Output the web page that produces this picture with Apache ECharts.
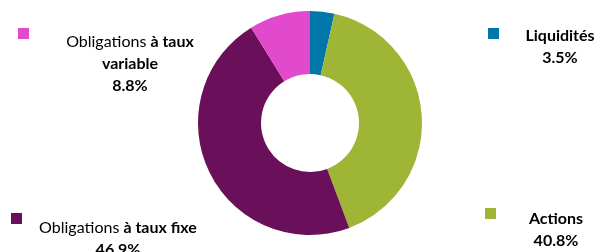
<!DOCTYPE html>
<html><head><meta charset="utf-8">
<script src="https://cdn.jsdelivr.net/npm/echarts@6/dist/echarts.min.js"></script>
<style>html,body{margin:0;padding:0;background:#fff}#c{width:599px;height:252px}</style>
</head><body><div id="c"></div>
<script>
const categories = ['Liquidités', 'Actions', 'Obligations à taux fixe', 'Obligations à taux variable'];
const values = [3.5, 40.8, 46.9, 8.8];
const colors = ['#0077A8', '#9FB535', '#6A0F5A', '#E24ACE'];

const chart = echarts.init(document.getElementById('c'), null, {renderer: 'canvas'});
const F = 'Lato, "Open Sans", sans-serif';
const rich = {
  r: {fontFamily: F, fontSize: 16, color: '#6b6b6b', fontWeight: 'normal', lineHeight: 22},
  b: {fontFamily: F, fontSize: 16, color: '#404040', fontWeight: 'bold', lineHeight: 22}
};
function pct(v){ return v.toFixed(1) + '%'; }
const labelTexts = [
  '{b|' + categories[0] + '}\n{b|' + pct(values[0]) + '}',
  '{b|' + categories[1] + '}\n{b|' + pct(values[1]) + '}',
  '{r|Obligations }{b|à taux fixe}\n{b|' + pct(values[2]) + '}',
  '{r|Obligations }{b|à taux}\n{b|variable}\n{b|' + pct(values[3]) + '}'
];
const labelPos = [
  {mx: 488, my: 28, tx: 560, ty: 25},
  {mx: 485, my: 208, tx: 556, ty: 208},
  {mx: 11, my: 213, tx: 118, ty: 217},
  {mx: 18, my: 28, tx: 130, ty: 31}
];
const graphic = [];
labelPos.forEach((p, i) => {
  graphic.push({type: 'rect', left: p.mx, top: p.my, shape: {width: 11, height: 11}, style: {fill: colors[i]}});
  graphic.push({type: 'text', x: p.tx, y: p.ty, style: {text: labelTexts[i], rich: rich, align: 'center', verticalAlign: 'top', font: '16px ' + F}});
});

chart.setOption({
  animation: false,
  color: colors,
  graphic: graphic,
  series: [{
    type: 'pie',
    center: [310, 123],
    radius: [49, 112],
    startAngle: 90,
    clockwise: true,
    label: {show: false},
    labelLine: {show: false},
    itemStyle: {borderWidth: 0},
    emphasis: {disabled: true},
    data: categories.map((c, i) => ({name: c, value: values[i]}))
  }]
});
</script></body></html>
